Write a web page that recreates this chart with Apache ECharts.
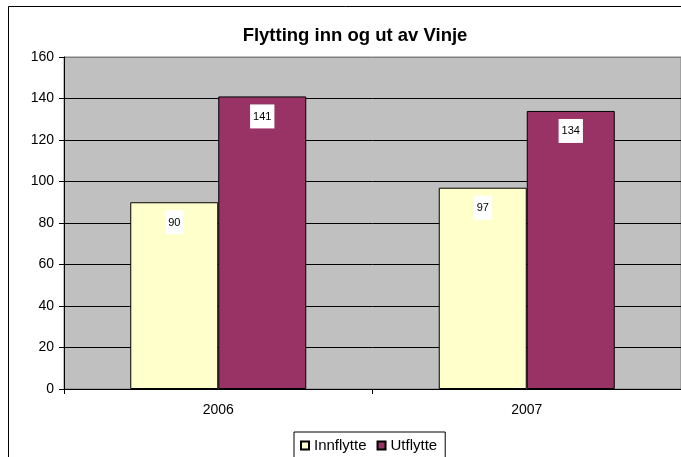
<!DOCTYPE html>
<html>
<head>
<meta charset="utf-8">
<script src="https://cdn.jsdelivr.net/npm/echarts@6/dist/echarts.min.js"></script>
<style>html,body{margin:0;padding:0;background:#fff;}#c{width:681px;height:457px;}</style>
</head>
<body>
<div id="c"></div>
<script>
var categories = ['2006', '2007'];
var innflytte = [90, 97];
var utflytte = [141, 134];
var yTicks = [0, 20, 40, 60, 80, 100, 120, 140, 160];

var chart = echarts.init(document.getElementById('c'));
var font = 'Arial, "Liberation Sans", sans-serif';
var labelCfg = {
  show: true, position: 'insideTop', distance: 8,
  color: '#000', fontSize: 11, fontFamily: font,
  backgroundColor: '#fff', padding: [7, 3, 6, 3]
};
chart.setOption({
  animation: false,
  title: {
    text: 'Flytting inn og ut av Vinje', left: 350, top: 21, textAlign: 'center',
    textStyle: { fontSize: 18.5, fontWeight: 'bold', fontFamily: font, color: '#000' }
  },
  graphic: [{
    type: 'rect', shape: { x: 8.5, y: 6.5, width: 720, height: 520 },
    style: { fill: 'none', stroke: '#000', lineWidth: 1 }, z: -1
  }],
  legend: {
    left: 294, top: 432, itemWidth: 8, itemHeight: 8, itemGap: 10,
    padding: [6, 8, 12, 6], borderColor: '#000', borderWidth: 1,
    icon: 'rect',
    textStyle: { fontSize: 15, fontFamily: font, color: '#000' },
    data: ['Innflytte', 'Utflytte']
  },
  grid: {
    left: 64, top: 57, width: 618, height: 332,
    show: true, backgroundColor: '#C0C0C0', borderColor: '#808080', borderWidth: 1
  },
  xAxis: {
    type: 'category', data: categories,
    axisLine: { lineStyle: { color: '#000', width: 1 } },
    axisTick: { show: true, length: 5, lineStyle: { color: '#000' } },
    axisLabel: { fontSize: 14, fontFamily: font, color: '#000', margin: 14 }
  },
  yAxis: {
    type: 'value', min: yTicks[0], max: yTicks[yTicks.length - 1], interval: 20,
    axisLine: { show: true, lineStyle: { color: '#000', width: 1 } },
    axisTick: { show: true, length: 5, lineStyle: { color: '#000' } },
    axisLabel: { fontSize: 14, fontFamily: font, color: '#000', margin: 10 },
    splitLine: { show: true, lineStyle: { color: ['#000','#000','#000','#000','#000','#000','#000','#000','#808080'], width: 1 } }
  },
  series: [
    { name: 'Innflytte', type: 'bar', data: innflytte, barWidth: 88, barGap: '0%',
      itemStyle: { color: '#FFFFCC', borderColor: '#000', borderWidth: 1 }, label: labelCfg },
    { name: 'Utflytte', type: 'bar', data: utflytte, barWidth: 88, barGap: '0%',
      itemStyle: { color: '#993366', borderColor: '#000', borderWidth: 1 }, label: labelCfg }
  ]
});
</script>
</body>
</html>
